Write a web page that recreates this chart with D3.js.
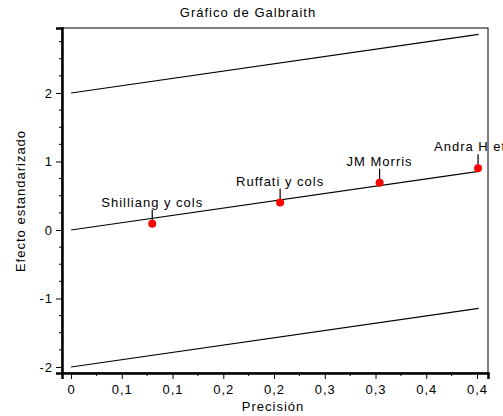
<!DOCTYPE html>
<html>
<head>
<meta charset="utf-8">
<script src="https://cdn.jsdelivr.net/npm/d3@7"></script>
<style>
  body { margin: 0; background: #fff; }
  text { font-family: Arial, "Liberation Sans", sans-serif; fill: #000; letter-spacing: 1px; }
</style>
</head>
<body>
<svg id="chart" width="503" height="416"></svg>
<script>
// Galbraith plot data
const studies = ['Shilliang y cols', 'Ruffati y cols', 'JM Morris', 'Andra H et al'];
const precision = [0.080, 0.206, 0.304, 0.401];
const stdEffect = [0.09, 0.40, 0.69, 0.90];
const pooledSlope = 2.13;
const lineEnd = 0.4016;
const xTicks = [0, 0.05, 0.1, 0.15, 0.2, 0.25, 0.3, 0.35, 0.4];
const xTickLabels = ['0', '0,1', '0,1', '0,2', '0,2', '0,3', '0,3', '0,4', '0,4'];
const yTicks = [-2, -1, 0, 1, 2];

const plotLeft = 62, plotRight = 488, plotTop = 28, plotBottom = 373;
const FONT = 'Arial, "Liberation Sans", sans-serif';

const svg = d3.select('#chart');

const x = d3.scaleLinear().domain([-0.0089, 0.4108]).range([plotLeft, plotRight]);
const y = d3.scaleLinear().domain([-2.088, 2.949]).range([plotBottom, plotTop]);

// Title
svg.append('text')
  .attr('x', 248).attr('y', 17)
  .attr('text-anchor', 'middle')
  .attr('font-size', '13px')
  .text('Gráfico de Galbraith');

// Frame
svg.append('rect')
  .attr('x', plotLeft).attr('y', plotTop)
  .attr('width', plotRight - plotLeft).attr('height', plotBottom - plotTop)
  .attr('fill', 'none').attr('stroke', '#000').attr('stroke-width', 1);

// Y axis
const yAxis = d3.axisLeft(y)
  .tickValues(yTicks)
  .tickFormat(d => d)
  .tickSize(6)
  .tickPadding(3);
const gy = svg.append('g').attr('transform', `translate(${plotLeft},0)`).call(yAxis);
gy.select('.domain').attr('stroke-width', 2.5);
gy.selectAll('text').attr('font-size', '13px').attr('font-family', FONT);

const yMinor = d3.range(-2, 3, 0.25).filter(v => !yTicks.includes(v));
svg.append('g').selectAll('line')
  .data(yMinor)
  .join('line')
  .attr('x1', plotLeft - 3).attr('x2', plotLeft)
  .attr('y1', d => y(d)).attr('y2', d => y(d))
  .attr('stroke', '#000');

// X axis
const xAxis = d3.axisBottom(x)
  .tickValues(xTicks)
  .tickFormat((d, i) => xTickLabels[i])
  .tickSize(6)
  .tickPadding(6);
const gx = svg.append('g').attr('transform', `translate(0,${plotBottom})`).call(xAxis);
gx.select('.domain').attr('stroke-width', 2.5);
gx.selectAll('text').attr('font-size', '13px').attr('font-family', FONT);

const xMinor = d3.range(0.025, 0.41, 0.05);
svg.append('g').selectAll('line')
  .data(xMinor)
  .join('line')
  .attr('x1', d => x(d)).attr('x2', d => x(d))
  .attr('y1', plotBottom).attr('y2', plotBottom + 3)
  .attr('stroke', '#000');

// Axis titles
svg.append('text')
  .attr('x', 273).attr('y', 411)
  .attr('text-anchor', 'middle')
  .attr('font-size', '13px')
  .text('Precisión');

svg.append('text')
  .attr('transform', 'translate(25,201) rotate(-90)')
  .attr('text-anchor', 'middle')
  .attr('font-size', '13px')
  .text('Efecto estandarizado');

// Regression line and +/-2 bands
[0, 2, -2].forEach(offset => {
  svg.append('line')
    .attr('x1', x(0)).attr('y1', y(offset))
    .attr('x2', x(lineEnd)).attr('y2', y(offset + pooledSlope * lineEnd))
    .attr('stroke', '#000').attr('stroke-width', 1.1);
});

// Leader lines and labels
const pts = studies.map((s, i) => ({ name: s, px: precision[i], py: stdEffect[i] }));

svg.append('g').selectAll('line')
  .data(pts)
  .join('line')
  .attr('x1', d => x(d.px)).attr('x2', d => x(d.px))
  .attr('y1', d => y(d.py) - 14).attr('y2', d => y(d.py))
  .attr('stroke', '#000').attr('stroke-width', 1.2);

svg.append('g').selectAll('text')
  .data(pts)
  .join('text')
  .attr('x', d => x(d.px))
  .attr('y', d => y(d.py) - 17)
  .attr('text-anchor', (d, i) => i === 3 ? 'start' : 'middle')
  .attr('dx', (d, i) => i === 3 ? -44 : 0)
  .attr('font-size', '13px')
  .text(d => d.name);

// Points
svg.append('g').selectAll('circle')
  .data(pts)
  .join('circle')
  .attr('cx', d => x(d.px))
  .attr('cy', d => y(d.py))
  .attr('r', 4)
  .attr('fill', '#ff0000');
</script>
</body>
</html>
